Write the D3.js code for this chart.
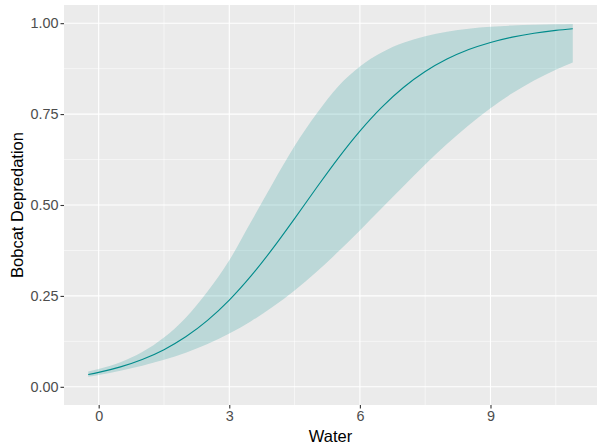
<!DOCTYPE html>
<html>
<head>
<meta charset="utf-8">
<script src="https://cdn.jsdelivr.net/npm/d3@7"></script>
<style>
  html, body { margin: 0; padding: 0; background: #ffffff; }
  svg { display: block; }
  text { font-family: "Liberation Sans", Arial, "DejaVu Sans", sans-serif; }
</style>
</head>
<body>
<svg id="chart" width="602" height="448"></svg>
<script>
// Values
const water = [-0.24, 0, 0.5, 1, 1.5, 2, 2.5, 3, 3.5, 4, 4.5, 5, 5.5, 6, 6.5, 7, 7.5, 8, 8.5, 9, 9.5, 10, 10.5, 10.89];
const fitValues = [0.0340, 0.0397, 0.0548, 0.0751, 0.1022, 0.1375, 0.1826, 0.2384, 0.3049, 0.3806, 0.4626, 0.5467, 0.6283, 0.7031, 0.7684, 0.8230, 0.8669, 0.9012, 0.9275, 0.9471, 0.9617, 0.9724, 0.9801, 0.9846];
const lowerValues = [0.0275, 0.0324, 0.0439, 0.0577, 0.0741, 0.0939, 0.1178, 0.1465, 0.1804, 0.2200, 0.2652, 0.3158, 0.3712, 0.4300, 0.4908, 0.5518, 0.6113, 0.6676, 0.7194, 0.7660, 0.8070, 0.8422, 0.8720, 0.8918];
const upperValues = [0.0419, 0.0487, 0.0675, 0.0955, 0.1355, 0.1900, 0.2620, 0.3480, 0.4540, 0.5600, 0.6620, 0.7500, 0.8260, 0.8810, 0.9195, 0.9461, 0.9642, 0.9764, 0.9846, 0.9899, 0.9934, 0.9957, 0.9972, 0.9980];
const xTicks = [0, 3, 6, 9];
const xMinor = [1.5, 4.5, 7.5, 10.5];
const yTicks = [0, 0.25, 0.5, 0.75, 1];
const yMinor = [0.125, 0.375, 0.625, 0.875];
const xTitle = "Water";
const yTitle = "Bobcat Depredation";

const data = water.map((x, i) => ({ x, fit: fitValues[i], lo: lowerValues[i], hi: upperValues[i] }));

const svg = d3.select("#chart");
const panel = { left: 64, right: 597, top: 5, bottom: 405 };

const xExt = d3.extent(water);
const xPad = (xExt[1] - xExt[0]) * 0.05;
const x = d3.scaleLinear().domain([xExt[0] - xPad, xExt[1] + xPad]).range([panel.left, panel.right]);
const y = d3.scaleLinear().domain([-0.05, 1.05]).range([panel.bottom, panel.top]);

svg.append("rect")
  .attr("x", panel.left).attr("y", panel.top)
  .attr("width", panel.right - panel.left).attr("height", panel.bottom - panel.top)
  .attr("fill", "#EBEBEB");

const grid = svg.append("g");
grid.selectAll(".xminor").data(xMinor).join("line")
  .attr("x1", d => x(d)).attr("x2", d => x(d))
  .attr("y1", panel.top).attr("y2", panel.bottom)
  .attr("stroke", "#ffffff").attr("stroke-width", 0.55);
grid.selectAll(".yminor").data(yMinor).join("line")
  .attr("y1", d => y(d)).attr("y2", d => y(d))
  .attr("x1", panel.left).attr("x2", panel.right)
  .attr("stroke", "#ffffff").attr("stroke-width", 0.55);
grid.selectAll(".xmajor").data(xTicks).join("line")
  .attr("x1", d => x(d)).attr("x2", d => x(d))
  .attr("y1", panel.top).attr("y2", panel.bottom)
  .attr("stroke", "#ffffff").attr("stroke-width", 1.1);
grid.selectAll(".ymajor").data(yTicks).join("line")
  .attr("y1", d => y(d)).attr("y2", d => y(d))
  .attr("x1", panel.left).attr("x2", panel.right)
  .attr("stroke", "#ffffff").attr("stroke-width", 1.1);

const area = d3.area()
  .x(d => x(d.x)).y0(d => y(d.lo)).y1(d => y(d.hi))
  .curve(d3.curveMonotoneX);
svg.append("path").datum(data)
  .attr("d", area)
  .attr("fill", "#008B8B").attr("fill-opacity", 0.2);

const line = d3.line().x(d => x(d.x)).y(d => y(d.fit)).curve(d3.curveMonotoneX);
svg.append("path").datum(data)
  .attr("d", line)
  .attr("fill", "none").attr("stroke", "#008B8B").attr("stroke-width", 1.1);

// Axes
const xAxis = d3.axisBottom(x).tickValues(xTicks).tickFormat(d3.format("d")).tickSize(3.5).tickPadding(2.5);
const gx = svg.append("g").attr("transform", `translate(0,${panel.bottom})`).call(xAxis);
gx.select(".domain").remove();
gx.selectAll(".tick line").attr("stroke", "#333333").attr("stroke-width", 1.1);
gx.selectAll(".tick text").attr("fill", "#4D4D4D").style("font-size", "14.4px")
  .style("font-family", '"Liberation Sans", Arial, sans-serif');

const yAxis = d3.axisLeft(y).tickValues(yTicks).tickFormat(d3.format(".2f")).tickSize(3.5).tickPadding(2);
const gy = svg.append("g").attr("transform", `translate(${panel.left},0)`).call(yAxis);
gy.select(".domain").remove();
gy.selectAll(".tick line").attr("stroke", "#333333").attr("stroke-width", 1.1);
gy.selectAll(".tick text").attr("fill", "#4D4D4D").style("font-size", "14.4px")
  .style("font-family", '"Liberation Sans", Arial, sans-serif');

svg.append("text")
  .attr("x", (panel.left + panel.right) / 2).attr("y", 442)
  .attr("text-anchor", "middle")
  .style("font-size", "16.5px").attr("fill", "#000000")
  .text(xTitle);

svg.append("text")
  .attr("transform", `translate(23,${(panel.top + panel.bottom) / 2}) rotate(-90)`)
  .attr("text-anchor", "middle")
  .style("font-size", "16.5px").attr("fill", "#000000")
  .text(yTitle);
</script>
</body>
</html>
